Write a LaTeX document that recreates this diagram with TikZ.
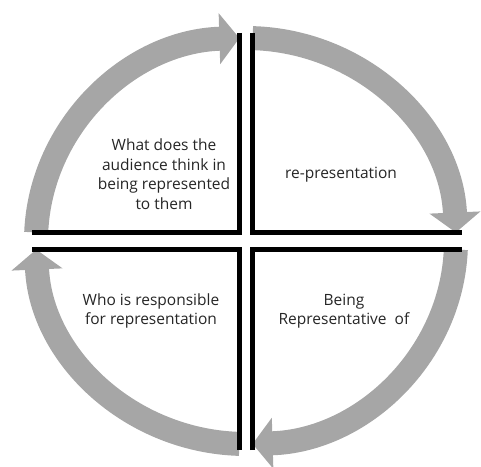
\documentclass[tikz,border=0pt]{standalone}
\usepackage{fontspec}
\setmainfont{Open Sans}
\usetikzlibrary{arrows.meta}
\definecolor{cyclegray}{RGB}{166,166,166}
\begin{document}
\begin{tikzpicture}[x=1pt,y=1pt,
    cyclearrow/.style={draw=cyclegray,line width=24pt,-{Triangle[width=50pt,length=20pt]}},
    divider/.style={line width=5pt},
    quadtext/.style={align=center,font=\fontsize{15.5}{19.5}\selectfont,text=black!85}]
  \useasboundingbox (-246,-225) rectangle (235,241);
  \foreach \s/\e in {177.6/91.8, 88.2/2.4, -2.4/-88.2, -91.8/-177.6}
    \draw[cyclearrow] (\s:210 and 203) arc[start angle=\s,end angle=\e,x radius=210,y radius=203];
  \draw[divider] (-6.5,208) -- (-6.5,8.5) -- (-214,8.5);
  \draw[divider] (6.5,208) -- (6.5,8.5) -- (216,8.5);
  \draw[divider] (6.5,-209) -- (6.5,-8.5) -- (216,-8.5);
  \draw[divider] (-6.5,-209) -- (-6.5,-8.5) -- (-214,-8.5);
  \node[quadtext] (audience) at (-82,67) {What does the\\audience think in\\being represented\\to them};
  \node[quadtext] (represent) at (95,66) {re-presentation};
  \node[quadtext] (responsible) at (-95,-70) {Who is responsible\\for representation};
  \node[quadtext] (being) at (98,-70) {Being\\Representative~~of};
\end{tikzpicture}
\end{document}
